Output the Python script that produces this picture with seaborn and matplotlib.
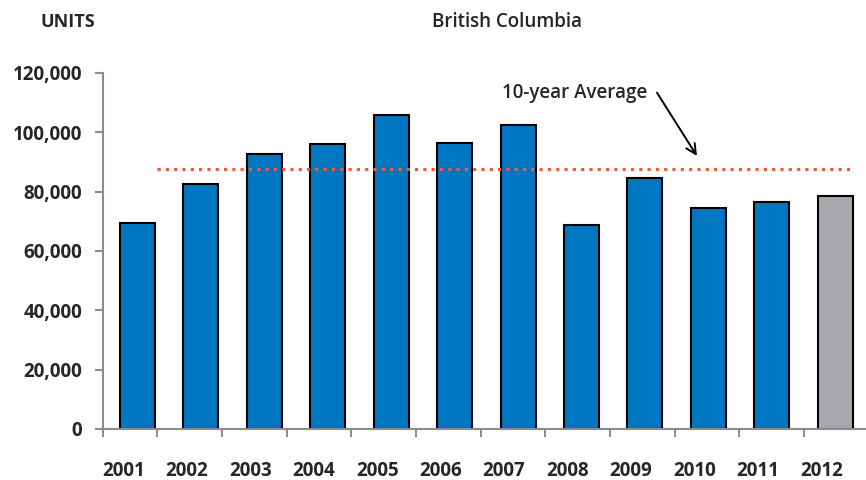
import numpy as np
import pandas as pd
import matplotlib
matplotlib.use("Agg")
import matplotlib.pyplot as plt
from matplotlib.ticker import FuncFormatter, FixedLocator
import seaborn as sns

# data
years = ["2001", "2002", "2003", "2004", "2005", "2006",
         "2007", "2008", "2009", "2010", "2011", "2012"]
units = [69400, 82500, 92800, 96000, 105800, 96300,
         102400, 68800, 84700, 74400, 76600, 78600]
kind = ["actual"] * 11 + ["forecast"]
ten_year_avg = 87500

blue = "#0077C0"
grey = "#A7A8AB"
avg_col = "#EC5B3C"
axis_col = "#8C8C8C"

sns.set_style("white")
plt.rcParams["font.family"] = ["Open Sans", "DejaVu Sans"]

df = pd.DataFrame({"year": years, "units": units, "kind": kind})

fig = plt.figure(figsize=(8.66, 4.8), dpi=100)
ax = fig.add_axes([0.1189, 0.10625, 0.880, 0.742])

sns.barplot(data=df, x="year", y="units", hue="kind", ax=ax,
            palette={"actual": blue, "forecast": grey}, dodge=False,
            saturation=1, width=0.55, edgecolor="black", linewidth=1.5,
            legend=False)

# 10-year average
ax.hlines(ten_year_avg, 0.31, 11.29, colors=avg_col, linewidth=2.3,
          linestyles=(0, (1, 1.6)), capstyle="butt", zorder=3)

ax.text(8.04, 113300, "10-year Average", ha="right", va="center",
        fontsize=13.5, fontweight="semibold")
ax.annotate("", xy=(8.82, 92000), xytext=(8.19, 113300),
            arrowprops=dict(arrowstyle="->", color="black", lw=1.4,
                            shrinkA=0, shrinkB=0, mutation_scale=18))

ax.set_xlim(-0.544, 11.47)
ax.set_ylim(0, 120000)
ax.set_yticks(np.arange(0, 120001, 20000))
ax.yaxis.set_major_formatter(FuncFormatter(lambda v, p: f"{int(v):,}"))

# labels sit a little left of the bar centres, tick marks in between
n = len(years)
ax.xaxis.set_major_locator(FixedLocator(np.arange(n) - 0.22))
ax.set_xticklabels(years)
ax.xaxis.set_minor_locator(FixedLocator(list(np.linspace(0.31, 10.51, n - 1)) + [-0.544]))
ax.tick_params(axis="x", which="major", length=0, pad=23, labelsize=13.5)
ax.tick_params(axis="x", which="minor", length=6, width=1.5, color=axis_col,
               direction="out", bottom=True)
ax.tick_params(axis="y", which="major", length=6, width=1.5, color=axis_col,
               direction="out", left=True, pad=9, labelsize=13.5)
for lab in ax.get_xticklabels() + ax.get_yticklabels():
    lab.set_fontweight("bold")

ax.set_xlabel("")
ax.set_ylabel("")
sns.despine(ax=ax)
for s in ["left", "bottom"]:
    ax.spines[s].set_color(axis_col)
    ax.spines[s].set_linewidth(1.5)

fig.text(0.0465, 0.954, "UNITS", fontsize=13, fontweight="bold", va="center")
fig.text(0.585, 0.954, "British Columbia", fontsize=13.5, fontweight="semibold",
         ha="center", va="center")

fig.savefig("out.png", dpi=100, facecolor="white")
